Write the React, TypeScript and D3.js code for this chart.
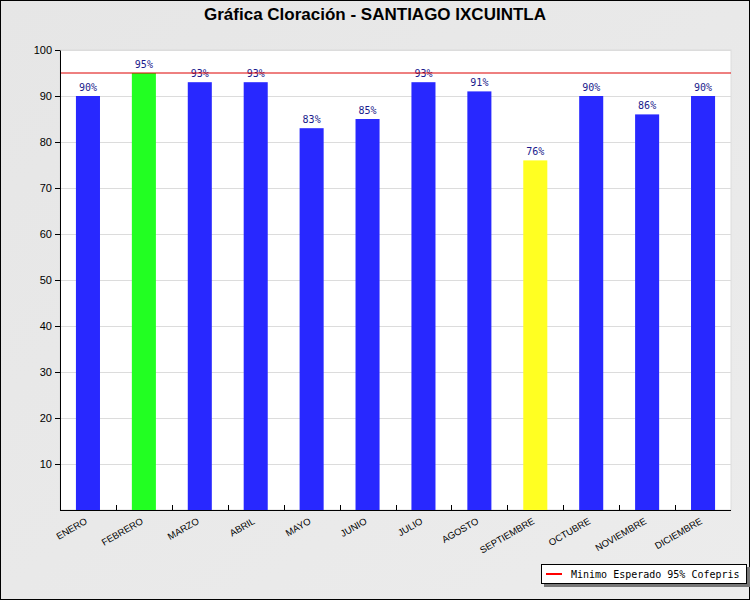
import React, { useEffect, useRef } from 'react';
import * as d3 from 'd3';

const months = ['ENERO', 'FEBRERO', 'MARZO', 'ABRIL', 'MAYO', 'JUNIO', 'JULIO', 'AGOSTO', 'SEPTIEMBRE', 'OCTUBRE', 'NOVIEMBRE', 'DICIEMBRE'];
const values = [90, 95, 93, 93, 83, 85, 93, 91, 76, 90, 86, 90];
const yTicks = [10, 20, 30, 40, 50, 60, 70, 80, 90, 100];
const minimo = 95;

const barColor = (v: number) => (v >= 95 ? '#22ff22' : v < 80 ? '#ffff22' : '#2828ff');

const App: React.FC = () => {
  const svgRef = useRef<SVGSVGElement | null>(null);

  useEffect(() => {
    document.body.style.margin = '0';
    const svg = d3.select(svgRef.current);
    svg.selectAll('*').remove();
    const width = 750;
    const height = 600;
    const m = { left: 60, right: 19, top: 50, bottom: 90 };

    const defs = svg.append('defs');
    const grad = defs.append('linearGradient').attr('id', 'bg').attr('x1', 0).attr('y1', 0).attr('x2', 1).attr('y2', 1);
    grad.append('stop').attr('offset', '0%').attr('stop-color', '#e6e6e6');
    grad.append('stop').attr('offset', '100%').attr('stop-color', '#ececec');

    // background + border
    svg.append('rect').attr('x', 0.5).attr('y', 0.5).attr('width', width - 1).attr('height', height - 1)
      .attr('fill', 'url(#bg)').attr('stroke', '#000');

    svg.append('text')
      .attr('x', width / 2).attr('y', 20)
      .attr('text-anchor', 'middle')
      .style('font-family', '"Liberation Sans", Arial, sans-serif')
      .style('font-weight', 'bold')
      .style('font-size', '17px')
      .text('Gráfica Cloración - SANTIAGO IXCUINTLA');

    const x = d3.scaleBand().domain(months).range([m.left, width - m.right]).paddingInner(0.57).paddingOuter(0.285);
    const y = d3.scaleLinear().domain([0, 100]).range([height - m.bottom, m.top]);

    // plot area
    svg.append('rect').attr('x', m.left).attr('y', m.top)
      .attr('width', width - m.left - m.right).attr('height', height - m.top - m.bottom)
      .attr('fill', '#fff').attr('stroke', '#dcdcdc');

    // grid
    svg.append('g').selectAll('line').data(yTicks).enter().append('line')
      .attr('x1', m.left).attr('x2', width - m.right)
      .attr('y1', d => y(d) + 0.5).attr('y2', d => y(d) + 0.5)
      .attr('stroke', '#dcdcdc');

    // bars
    svg.append('g').selectAll('rect').data(values).enter().append('rect')
      .attr('x', (d, i) => x(months[i])!)
      .attr('y', d => y(d))
      .attr('width', x.bandwidth())
      .attr('height', d => y(0) - y(d))
      .attr('fill', d => barColor(d));

    // value labels
    svg.append('g').selectAll('text').data(values).enter().append('text')
      .attr('x', (d, i) => x(months[i])! + x.bandwidth() / 2)
      .attr('y', d => y(d) - 5)
      .attr('text-anchor', 'middle')
      .style('font-family', '"DejaVu Sans Mono", monospace')
      .style('font-size', '10px')
      .attr('fill', '#1a1a8c')
      .text(d => `${d}%`);

    // minimum line (red)
    svg.append('line')
      .attr('x1', m.left).attr('x2', width - m.right)
      .attr('y1', y(minimo)).attr('y2', y(minimo))
      .attr('stroke', '#dd0000').attr('stroke-width', 1);

    // y axis
    const yAxis = svg.append('g').attr('transform', `translate(${m.left},0)`)
      .call(d3.axisLeft(y).tickValues(yTicks).tickSize(5).tickSizeOuter(0));
    yAxis.select('.domain').attr('stroke', '#000');
    yAxis.selectAll('text')
      .style('font-family', '"Liberation Sans", Arial, sans-serif')
      .style('font-size', '11px').attr('fill', '#000');

    // x axis
    const step = x.step();
    const tickPos = d3.range(1, months.length).map(i => m.left + x.paddingOuter() * step + i * step - (x.paddingInner() * step) / 2);
    const gx = svg.append('g');
    gx.append('line').attr('x1', m.left).attr('x2', width - m.right)
      .attr('y1', y(0) + 0.5).attr('y2', y(0) + 0.5).attr('stroke', '#000');
    gx.selectAll('line.tk').data(tickPos).enter().append('line').attr('class', 'tk')
      .attr('x1', d => Math.round(d) + 0.5).attr('x2', d => Math.round(d) + 0.5)
      .attr('y1', y(0) - 5).attr('y2', y(0)).attr('stroke', '#000');
    gx.selectAll('text').data(months).enter().append('text')
      .attr('transform', d => `translate(${x(d)! + x.bandwidth() / 2},${y(0) + 13}) rotate(-30)`)
      .attr('text-anchor', 'end')
      .style('font-family', '"Liberation Sans", Arial, sans-serif')
      .style('font-size', '9.5px')
      .text(d => d);

    // legend
    const lg = svg.append('g').attr('transform', 'translate(541,564)');
    lg.append('rect').attr('x', 3).attr('y', 3).attr('width', 206).attr('height', 20).attr('fill', '#777');
    lg.append('rect').attr('x', 0.5).attr('y', 0.5).attr('width', 205).attr('height', 19).attr('fill', '#fff').attr('stroke', '#000');
    lg.append('line').attr('x1', 5).attr('x2', 21).attr('y1', 10).attr('y2', 10).attr('stroke', '#ff0000').attr('stroke-width', 2);
    lg.append('text').attr('x', 30).attr('y', 14)
      .style('font-family', '"DejaVu Sans Mono", monospace')
      .style('font-size', '10px')
      .text('Minimo Esperado 95% Cofepris');
  }, []);

  return <svg ref={svgRef} width={750} height={600} style={{ display: 'block' }} />;
};

export default App;
